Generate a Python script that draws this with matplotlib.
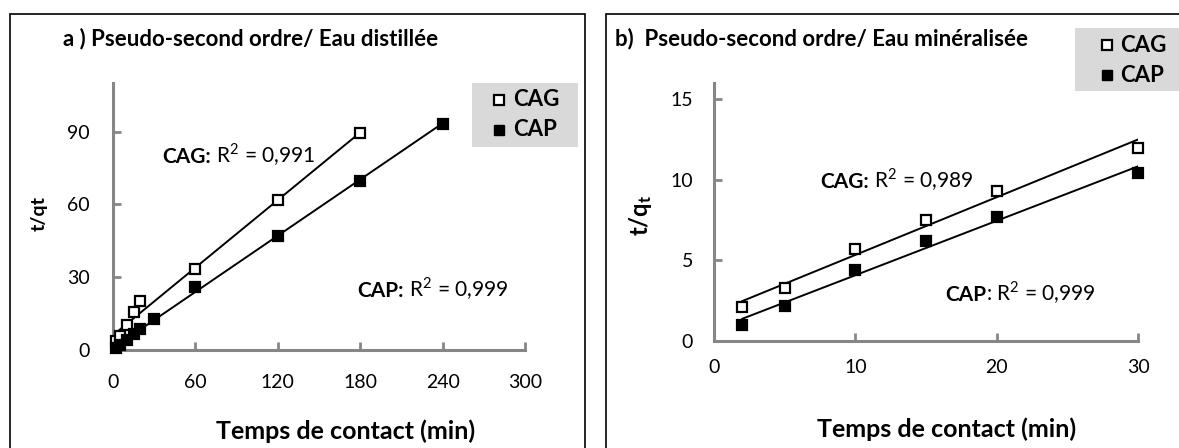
import numpy as np
import matplotlib
matplotlib.use("Agg")
import matplotlib.pyplot as plt
from matplotlib.patches import Rectangle

plt.rcParams['font.family'] = ['Lato', 'DejaVu Sans']
plt.rcParams['mathtext.fontset'] = 'custom'
plt.rcParams['mathtext.rm'] = 'Lato'
plt.rcParams['mathtext.bf'] = 'Lato:bold'

# panel a : eau distillée
t_cag_a = [2, 5, 10, 15, 20, 60, 120, 180]
q_cag_a = [3.8, 5.6, 10.4, 15.7, 20.2, 33.4, 61.6, 89.3]
t_cap_a = [2, 5, 10, 15, 20, 30, 60, 120, 180, 240]
q_cap_a = [1.0, 2.2, 4.0, 6.5, 8.6, 12.8, 25.8, 47.0, 69.8, 93.3]

# panel b : eau minéralisée
t_b = [2, 5, 10, 15, 20, 30]
q_cag_b = [2.1, 3.3, 5.7, 7.5, 9.3, 12.0]
q_cap_b = [1.0, 2.2, 4.4, 6.2, 7.7, 10.4]

xticks_a = [0, 60, 120, 180, 240, 300]
yticks_a = [0, 30, 60, 90]
xticks_b = [0, 10, 20, 30]
yticks_b = [0, 5, 10, 15]

W, H = 1179, 448
fig = plt.figure(figsize=(W / 100, H / 100), dpi=100)


def fx(px):
    return px / W


def fy(py):
    return 1 - py / H


# panel frames
fig.patches.append(Rectangle((fx(10), -0.02), 575 / W, 1.02 - 14 / H, transform=fig.transFigure,
                             fill=False, edgecolor='black', lw=1.2))
fig.patches.append(Rectangle((fx(606), -0.02), 600 / W, 1.02 - 14 / H, transform=fig.transFigure,
                             fill=False, edgecolor='black', lw=1.2))

spine_col = '#868686'


def style(ax, xpad, ypad):
    for s in ['top', 'right']:
        ax.spines[s].set_visible(False)
    for s in ['left', 'bottom']:
        ax.spines[s].set_color(spine_col)
        ax.spines[s].set_linewidth(2.2)
    ax.tick_params(direction='in', length=6, width=2, color=spine_col, labelsize=14)
    ax.tick_params(axis='x', pad=xpad)
    ax.tick_params(axis='y', pad=ypad)
    ax.patch.set_alpha(0)


def fitline(ax, x, y):
    p = np.polyfit(x, y, 1)
    xs = np.array([min(x), max(x)])
    ax.plot(xs, np.polyval(p, xs), color='black', lw=1.4, zorder=2)


def r2_label(x, y, name, rest):
    fig.canvas.draw()
    t1 = fig.text(fx(x), fy(y), name, fontsize=15, fontweight='bold', va='baseline', ha='left')
    bb = t1.get_window_extent(renderer=fig.canvas.get_renderer())
    fig.text(bb.x1 / W, fy(y), rest, fontsize=15, va='baseline', ha='left')


def legend_box(x0, y0, w, h, xm, ym1, ym2, xt):
    fig.patches.append(Rectangle((fx(x0), fy(y0 + h)), w / W, h / H, transform=fig.transFigure,
                                 facecolor='#d9d9d9', edgecolor='none'))
    fig.lines.append(plt.Line2D([fx(xm)], [fy(ym1)], transform=fig.transFigure, marker='s',
                                ms=7, mfc='white', mec='black', mew=1.6, ls='none'))
    fig.lines.append(plt.Line2D([fx(xm)], [fy(ym2)], transform=fig.transFigure, marker='s',
                                ms=7, mfc='black', mec='black', ls='none'))
    fig.text(fx(xt), fy(ym1), 'CAG', fontsize=16, fontweight='bold', va='center')
    fig.text(fx(xt), fy(ym2), 'CAP', fontsize=16, fontweight='bold', va='center')


def scatter(ax, x, y, filled):
    ax.plot(x, y, 's', ms=7.5, mfc='black' if filled else 'white', mec='black', mew=1.6,
            zorder=3, clip_on=False)


# ---- panel a
ax1 = fig.add_axes([fx(113), fy(350), 412 / W, 267 / H])
style(ax1, 17, 16.5)
fitline(ax1, t_cag_a, q_cag_a)
fitline(ax1, t_cap_a, q_cap_a)
scatter(ax1, t_cag_a, q_cag_a, False)
scatter(ax1, t_cap_a, q_cap_a, True)
ax1.set_xlim(0, 300)
ax1.set_ylim(0, 110)
ax1.set_xticks(xticks_a)
ax1.set_yticks(yticks_a)
fig.text(fx(346), fy(439), 'Temps de contact (min)', fontsize=18, fontweight='bold',
         ha='center', va='baseline')
fig.text(fx(39), fy(213), 't/qt', fontsize=14, fontweight='bold', rotation=90,
         ha='center', va='center')
fig.text(fx(63), fy(45), 'a ) Pseudo-second ordre/ Eau distillée', fontsize=16,
         fontweight='bold', va='baseline', ha='left')
legend_box(472, 83, 106, 64, 499, 100, 130, 513)
r2_label(162, 163, 'CAG:', ' R$^2$ = 0,991')
r2_label(357, 297, 'CAP:', ' R$^2$ = 0,999')

# ---- panel b
ax2 = fig.add_axes([fx(714), fy(341), 424 / W, 258 / H])
style(ax2, 13, 15)
fitline(ax2, t_b, q_cag_b)
fitline(ax2, t_b, q_cap_b)
scatter(ax2, t_b, q_cag_b, False)
scatter(ax2, t_b, q_cap_b, True)
ax2.set_xlim(0, 30)
ax2.set_ylim(0, 16)
ax2.set_xticks(xticks_b)
ax2.set_yticks(yticks_b)
fig.text(fx(947), fy(437), 'Temps de contact (min)', fontsize=18, fontweight='bold',
         ha='center', va='baseline')
fig.text(fx(640), fy(215), r'$\mathbf{t/q_t}$', fontsize=17, rotation=90,
         ha='center', va='center')
fig.text(fx(615), fy(45), 'b)  Pseudo-second ordre/ Eau minéralisée', fontsize=16,
         fontweight='bold', va='baseline', ha='left')
legend_box(1075, 28, 110, 63, 1107, 45.5, 75, 1120)
r2_label(820, 188, 'CAG:', ' R$^2$ = 0,989')
r2_label(945, 301, 'CAP', ': R$^2$ = 0,999')

fig.savefig('out.png', dpi=100)
